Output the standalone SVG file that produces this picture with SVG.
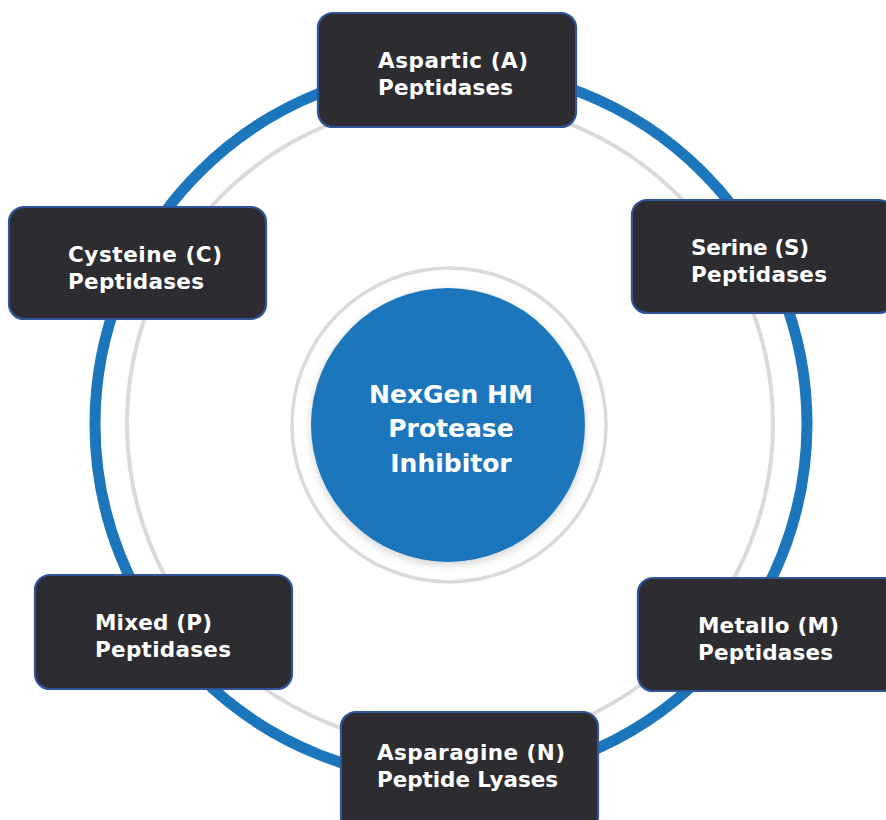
<svg xmlns="http://www.w3.org/2000/svg" width="886" height="820" viewBox="0 0 886 820">
  <style>
    .box { fill: #2c2c31; stroke: #2f5597; stroke-width: 2.2; }
    .lbl { font-family: "DejaVu Sans", "Liberation Sans", sans-serif; font-weight: bold; font-size: 21.5px; fill: #ffffff; }
    .ctr { font-family: "DejaVu Sans", "Liberation Sans", sans-serif; font-weight: bold; font-size: 25px; fill: #ffffff; text-anchor: middle; }
  </style>
  <defs>
    <filter id="sh" x="-20%" y="-20%" width="140%" height="140%">
      <feDropShadow dx="0" dy="3" stdDeviation="4" flood-color="#000000" flood-opacity="0.18"/>
    </filter>
  </defs>
  <rect width="886" height="820" fill="#ffffff"/>
  <g id="connectors" fill="none">
    <circle cx="450" cy="424" r="323" stroke="#dadada" stroke-width="4"/>
    <circle cx="451" cy="424" r="356" stroke="#1c76bc" stroke-width="11"/>
    <circle cx="449" cy="425" r="157" stroke="#dadada" stroke-width="3.5"/>
  </g>
  <g id="center">
    <circle cx="448" cy="425" r="137" fill="#1c76bc" filter="url(#sh)"/>
    <text class="ctr" x="451" y="403">NexGen HM</text>
    <text class="ctr" x="451" y="437">Protease</text>
    <text class="ctr" x="451" y="472">Inhibitor</text>
  </g>
  <g id="aspartic">
    <rect class="box" x="318" y="13" width="258" height="114" rx="15"/>
    <text class="lbl" x="378" y="68" textLength="150">Aspartic (A)</text>
    <text class="lbl" x="378" y="95" textLength="135">Peptidases</text>
  </g>
  <g id="serine">
    <rect class="box" x="632" y="200" width="262" height="113" rx="15"/>
    <text class="lbl" x="691" y="255" textLength="118">Serine (S)</text>
    <text class="lbl" x="691" y="282" textLength="136">Peptidases</text>
  </g>
  <g id="cysteine">
    <rect class="box" x="9" y="207" width="257" height="112" rx="15"/>
    <text class="lbl" x="68" y="262" textLength="154">Cysteine (C)</text>
    <text class="lbl" x="68" y="289" textLength="136">Peptidases</text>
  </g>
  <g id="metallo">
    <rect class="box" x="638" y="578" width="262" height="113" rx="15"/>
    <text class="lbl" x="698" y="633" textLength="141">Metallo (M)</text>
    <text class="lbl" x="698" y="660" textLength="135">Peptidases</text>
  </g>
  <g id="mixed">
    <rect class="box" x="35" y="575" width="257" height="114" rx="15"/>
    <text class="lbl" x="95" y="630" textLength="117">Mixed (P)</text>
    <text class="lbl" x="95" y="657" textLength="136">Peptidases</text>
  </g>
  <g id="asparagine">
    <rect class="box" x="341" y="712" width="257" height="120" rx="15"/>
    <text class="lbl" x="377" y="760" textLength="188">Asparagine (N)</text>
    <text class="lbl" x="377" y="787" textLength="181">Peptide Lyases</text>
  </g>
</svg>
